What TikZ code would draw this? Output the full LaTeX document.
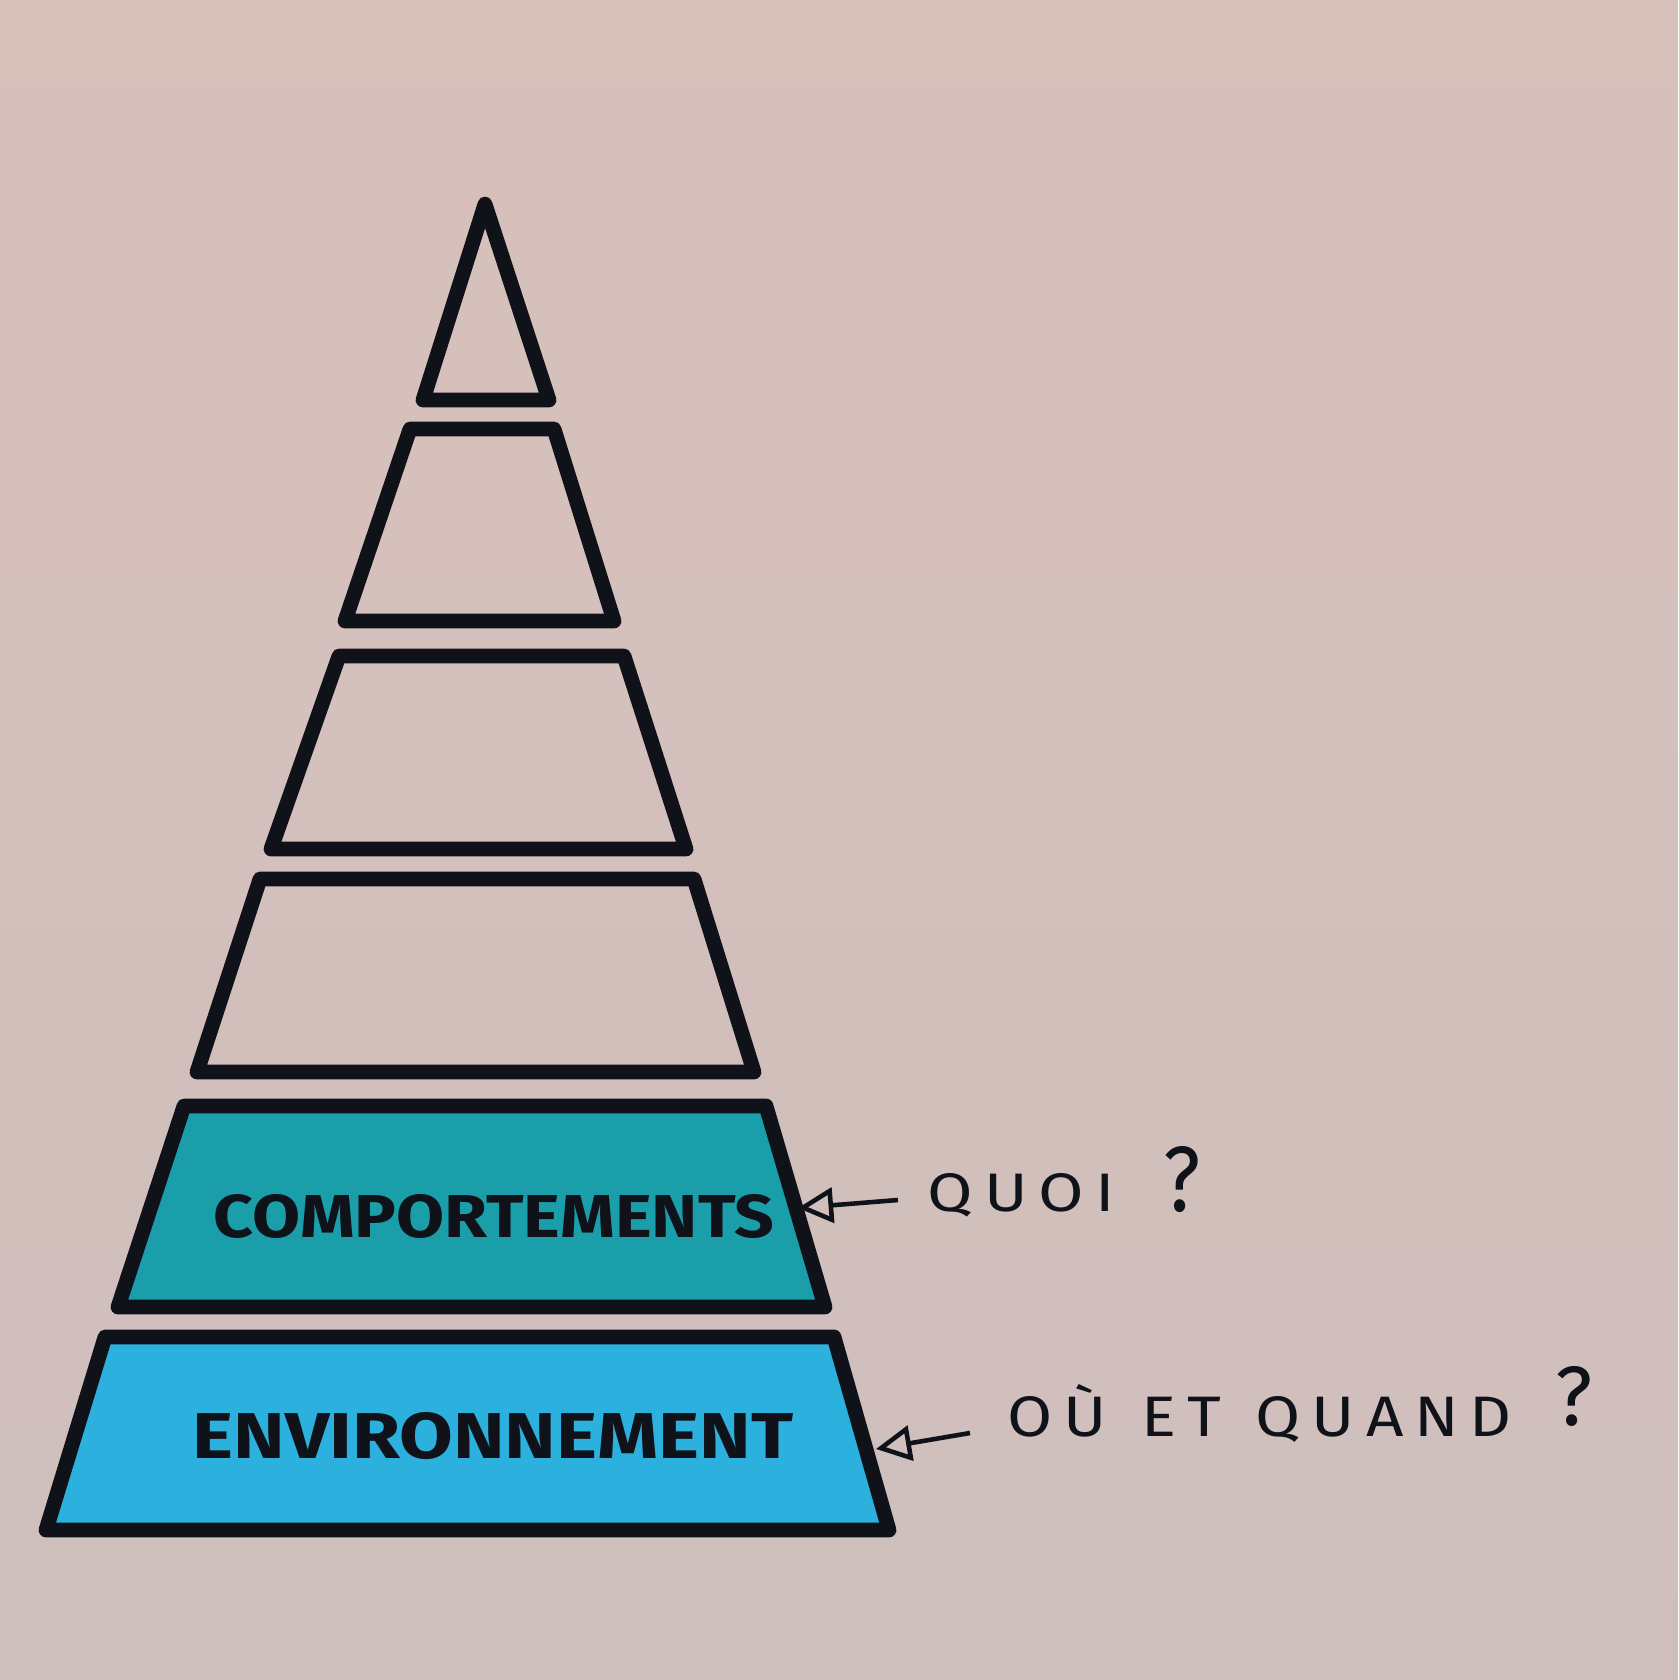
\documentclass[tikz,border=0pt]{standalone}
\usepackage{fontspec}
\setmainfont{Fira Sans}
\usetikzlibrary{arrows.meta}
\definecolor{paperTop}{RGB}{216,192,187}
\definecolor{paperBot}{RGB}{206,191,189}
\definecolor{tealfill}{RGB}{26,158,170}
\definecolor{bluefill}{RGB}{44,176,222}
\definecolor{ink}{RGB}{16,18,26}
\tikzset{
  layer/.style={draw=ink, line width=4.2pt, line join=round, line cap=round},
  boxlabel/.style={text=ink, inner sep=0pt, font=\bfseries},
  sidelabel/.style={text=ink, inner sep=0pt, anchor=base west},
  pointer/.style={draw=ink, line width=1.3pt, -{Triangle[open, length=10pt, width=10pt, line width=1.3pt]}},
}
\begin{document}
\begin{tikzpicture}[x=0.01cm, y=-0.01cm]
\shade[top color=paperTop, bottom color=paperBot] (0,0) rectangle (1678,1680);
\useasboundingbox (0,0) rectangle (1678,1680);
% top triangle
\draw[layer] (485,204) -- (549,400) -- (423,400) -- cycle;
% trapezoids
\draw[layer] (410,429) -- (554,429) -- (614,621) -- (345,621) -- cycle;
\draw[layer] (339,656) -- (624,656) -- (686,849) -- (271,849) -- cycle;
\draw[layer] (260,879) -- (694,879) -- (754,1072) -- (197,1072) -- cycle;
\draw[layer, fill=tealfill] (184,1106) -- (766,1106) -- (825,1307) -- (118,1307) -- cycle;
\draw[layer, fill=bluefill] (105,1337) -- (834,1337) -- (889,1530) -- (46,1530) -- cycle;
% labels inside
\node[boxlabel] (comp) at (494,1216) {\resizebox{5.6cm}{0.43cm}{COMPORTEMENTS}};
\node[boxlabel] (env) at (493,1436) {\resizebox{6.0cm}{0.46cm}{ENVIRONNEMENT}};
% side labels
\node[sidelabel] (quoi) at (927,1211) {\resizebox{1.87cm}{0.38cm}{Q\,U\,O\,I}\hspace{0.49cm}\resizebox{0.37cm}{0.65cm}{?}};
\node[sidelabel] (ouquand) at (1007,1436) {\resizebox{5.04cm}{0.52cm}{O\,Ù \ E\,T \ Q\,U\,A\,N\,D}\hspace{0.43cm}\raisebox{0.11cm}{\resizebox{0.37cm}{0.59cm}{?}}};
% arrows
\coordinate (qa) at (898,1200);
\coordinate (qtip) at (798,1208);
\coordinate (oa) at (970,1433);
\coordinate (otip) at (876,1449);
\draw[pointer] (qa) -- (qtip);
\draw[pointer] (oa) -- (otip);
\end{tikzpicture}
\end{document}
